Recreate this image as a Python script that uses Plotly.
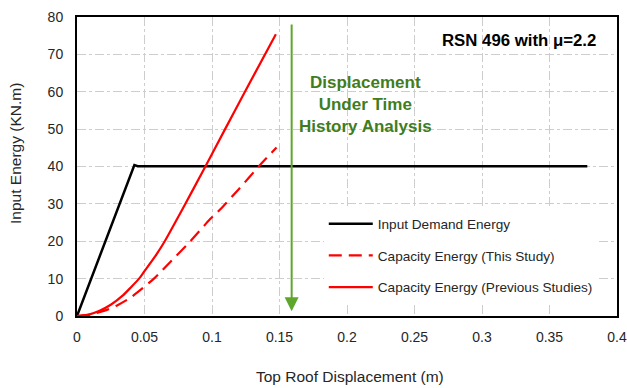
import plotly.graph_objects as go

# Input demand energy vs top roof displacement
demand_x = [0, 0.01, 0.02, 0.03, 0.04, 0.0425, 0.045, 0.378]
demand_y = [0, 9.5, 19.0, 28.5, 38.0, 40.4, 40.1, 40.1]

# Capacity energy, this study (dashed)
study_x = [0, 0.01, 0.021, 0.03, 0.040, 0.057, 0.070, 0.084, 0.0983, 0.106, 0.12, 0.1346, 0.1478]
study_y = [0, 0.4, 1.5, 2.9, 5.0, 10.0, 14.8, 20.0, 25.8, 28.5, 34.0, 40.0, 45.1]

# Capacity energy, previous studies (solid)
prev_x = [0, 0.008, 0.0167, 0.025, 0.034, 0.040, 0.046, 0.05, 0.058, 0.065, 0.078, 0.0951, 0.11, 0.125, 0.1473]
prev_y = [0, 0.3, 1.4, 3.0, 5.5, 7.7, 10.0, 12.0, 16.0, 20.0, 28.5, 40.0, 50.2, 60.4, 75.4]

# Displacement from time history analysis (arrow)
th_disp = 0.159
th_arrow_top = 78.4
th_arrow_tip = 1.3

x_ticks = [0, 0.05, 0.1, 0.15, 0.2, 0.25, 0.3, 0.35, 0.4]
x_ticktext = ["0", "0.05", "0.1", "0.15", "0.2", "0.25", "0.3", "0.35", "0.4"]
y_ticks = [0, 10, 20, 30, 40, 50, 60, 70, 80]

FONT = "Liberation Sans, Arial, sans-serif"
TXT = "#262626"
GREEN_LINE = "#5ea62c"
GREEN_TEXT = "#3f7d20"
GRID = "#cdcdcd"

fig = go.Figure()
fig.add_trace(go.Scatter(x=demand_x, y=demand_y, mode="lines", name="Input Demand Energy",
                         legendgroup="a", line=dict(color="black", width=2.5)))
fig.add_trace(go.Scatter(x=study_x, y=study_y, mode="lines", name="Capacity Energy (This Study)",
                         legendgroup="b", line=dict(color="#ff0000", width=2.2, dash="13px,7px",
                                                    shape="spline", smoothing=0.6)))
fig.add_trace(go.Scatter(x=prev_x, y=prev_y, mode="lines", name="Capacity Energy (Previous Studies)",
                         legendgroup="c", line=dict(color="#ff0000", width=2.2,
                                                    shape="spline", smoothing=0.6)))

fig.add_annotation(x=th_disp, y=th_arrow_tip, ax=th_disp, ay=th_arrow_top,
                   xref="x", yref="y", axref="x", ayref="y",
                   showarrow=True, arrowhead=2, arrowsize=1.4, arrowwidth=2,
                   arrowcolor=GREEN_LINE, text="")

fig.add_annotation(x=0.214, y=56.5, xref="x", yref="y", showarrow=False,
                   text="<b>Displacement<br>Under Time<br>History Analysis</b>",
                   font=dict(family=FONT, size=17, color=GREEN_TEXT), align="center")

fig.add_annotation(x=0.386, y=73.8, xref="x", yref="y", showarrow=False,
                   xanchor="right", text="<b>RSN 496 with \u03bc=2.2</b>",
                   font=dict(family=FONT, size=16.8, color="black"))

fig.add_annotation(x=-0.115, y=0.545, xref="paper", yref="paper", showarrow=False,
                   xanchor="center", yanchor="middle",
                   text="Input Energy (KN.m)", textangle=-90,
                   font=dict(family=FONT, size=15.5, color=TXT))
fig.add_annotation(x=0.505, y=-0.204, xref="paper", yref="paper", showarrow=False,
                   xanchor="center", yanchor="middle",
                   text="Top Roof Displacement (m)",
                   font=dict(family=FONT, size=15.5, color=TXT))

axis_common = dict(showgrid=True, gridcolor=GRID, gridwidth=1.4, griddash="dashdot",
                   showline=True, mirror=True, linecolor="black", linewidth=2,
                   zeroline=False, ticks="", automargin=False,
                   tickfont=dict(family=FONT, size=14, color=TXT))
fig.update_xaxes(range=[0, 0.4], tickvals=x_ticks, ticktext=x_ticktext,
                 ticklabelstandoff=7, **axis_common)
fig.update_yaxes(range=[0, 80], tickvals=y_ticks, ticklabelstandoff=9, **axis_common)

fig.update_layout(
    width=627, height=388,
    margin=dict(l=77, r=10, t=17, b=72),
    paper_bgcolor="white", plot_bgcolor="white",
    legend=dict(x=0.457, y=0.36, xanchor="left", yanchor="top",
                bgcolor="white", borderwidth=0, tracegroupgap=11, itemwidth=44,
                font=dict(family=FONT, size=13.6, color=TXT)),
    font=dict(family=FONT),
)

fig.write_html("out.html")
